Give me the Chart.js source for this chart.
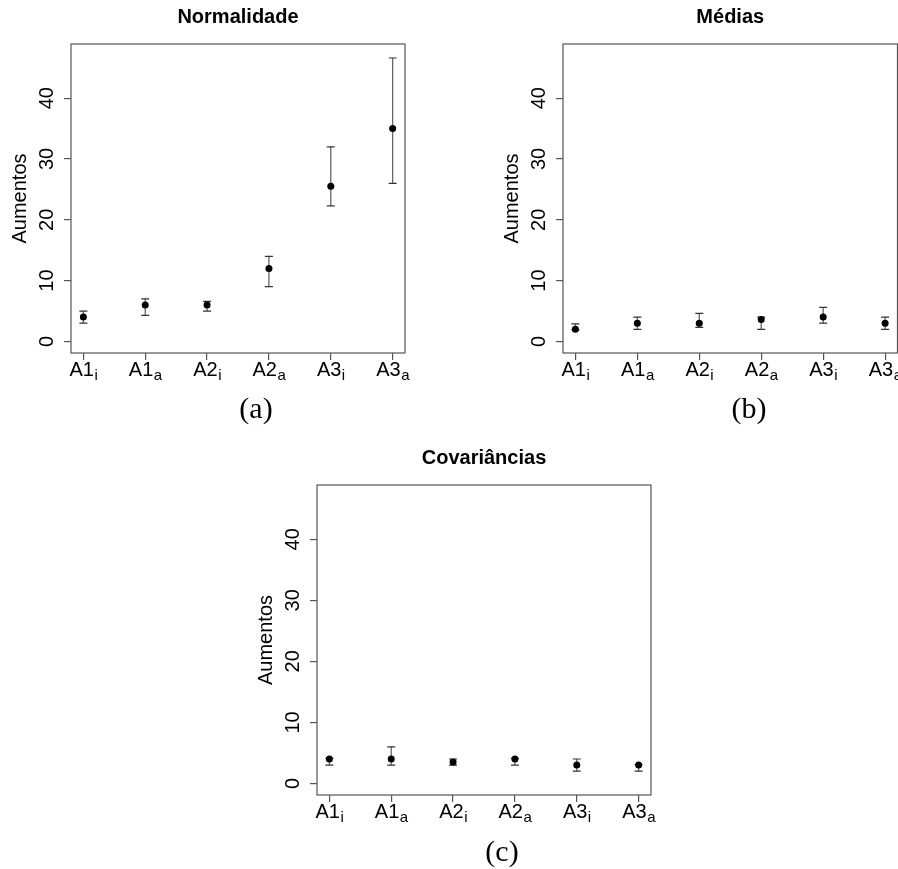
<!DOCTYPE html>
<html><head><meta charset="utf-8">
<script src="https://cdn.jsdelivr.net/npm/chart.js@4.4.1/dist/chart.umd.min.js"></script>
<style>
html,body{margin:0;padding:0;background:#fff;overflow:hidden;width:898px;height:869px;}
.c{position:absolute;}
.cap{position:absolute;font-family:"Liberation Serif","DejaVu Serif",serif;font-size:30px;color:#000;transform:translate(-50%,-50%);line-height:1;white-space:nowrap;}
</style></head><body>
<canvas id="ca" class="c" style="left:0;top:0" width="440" height="393"></canvas>
<canvas id="cb" class="c" style="left:492px;top:0" width="409" height="393"></canvas>
<canvas id="cc" class="c" style="left:246px;top:441px" width="440" height="394"></canvas>
<div class="cap" style="left:256px;top:408px">(a)</div>
<div class="cap" style="left:749px;top:408px">(b)</div>
<div class="cap" style="left:502px;top:851px">(c)</div>
<script>
// ---- data ----
const categories = ['A1', 'A1', 'A2', 'A2', 'A3', 'A3'];
const subscripts = ['i', 'a', 'i', 'a', 'i', 'a'];
const yTicks = [0, 10, 20, 30, 40];

const normMean = [4, 6, 6, 12, 25.5, 35];
const normLow  = [3, 4.3, 5, 9, 22.3, 26];
const normHigh = [5, 7, 6.6, 14, 32, 46.6];

const mediasMean = [2, 3, 3, 3.6, 4, 3];
const mediasLow  = [1.9, 2, 2.3, 2, 3, 2];
const mediasHigh = [2.9, 4, 4.6, 4, 5.6, 4];

const covMean = [4, 4, 3.5, 4, 3, 3];
const covLow  = [3, 3, 3, 3, 2, 2];
const covHigh = [4.1, 6, 4, 4.1, 4, 3.1];

const SANS = '"Liberation Sans", Arial, sans-serif';
Chart.defaults.font.family = SANS;
Chart.defaults.color = '#000';

const rPlot = {
  id: 'rPlot',
  beforeDatasetsDraw(chart) {
    const o = chart.options.plugins.rPlot;
    const {ctx, scales: {x, y}} = chart;
    ctx.save();
    for (let i = 0; i < o.low.length; i++) {
      const px = x.getPixelForValue(i + 1);
      const pl = y.getPixelForValue(o.low[i]);
      const ph = y.getPixelForValue(o.high[i]);
      ctx.strokeStyle = '#666'; ctx.lineWidth = 1.3;
      ctx.beginPath(); ctx.moveTo(px, pl); ctx.lineTo(px, ph); ctx.stroke();
      ctx.strokeStyle = '#333'; ctx.lineWidth = 1.2;
      ctx.beginPath();
      ctx.moveTo(px - 4, pl); ctx.lineTo(px + 4, pl);
      ctx.moveTo(px - 4, ph); ctx.lineTo(px + 4, ph);
      ctx.stroke();
    }
    ctx.restore();
  },
  afterDraw(chart) {
    const {ctx, chartArea: a, scales: {x, y}} = chart;
    ctx.save();
    // box
    ctx.strokeStyle = '#555'; ctx.lineWidth = 1.2;
    ctx.strokeRect(a.left, a.top, a.right - a.left, a.bottom - a.top);
    // y tick labels (rotated, R style)
    ctx.fillStyle = '#000';
    ctx.font = '20px ' + SANS;
    ctx.textAlign = 'center'; ctx.textBaseline = 'middle';
    yTicks.forEach(v => {
      const py = y.getPixelForValue(v);
      ctx.save();
      ctx.translate(a.left - 24, py);
      ctx.rotate(-Math.PI / 2);
      ctx.fillText(String(v), 0, 0);
      ctx.restore();
    });
    // x tick labels with subscripts
    ctx.textBaseline = 'alphabetic'; ctx.textAlign = 'left';
    const base = a.bottom + 23;
    categories.forEach((c, i) => {
      const px = x.getPixelForValue(i + 1);
      ctx.font = '20px ' + SANS;
      const w1 = ctx.measureText(c).width;
      ctx.font = '15px ' + SANS;
      const w2 = ctx.measureText(subscripts[i]).width;
      const sx = px - (w1 + w2) / 2;
      ctx.font = '20px ' + SANS;
      ctx.fillText(c, sx, base);
      ctx.font = '15px ' + SANS;
      ctx.fillText(subscripts[i], sx + w1 + 0.5, base + 4);
    });
    ctx.restore();
  }
};

function makeChart(id, title, mean, low, high, padRight) {
  new Chart(document.getElementById(id), {
    type: 'scatter',
    data: {
      datasets: [{
        data: mean.map((v, i) => ({x: i + 1, y: v})),
        pointRadius: 3.5,
        pointHoverRadius: 3.5,
        backgroundColor: '#000',
        borderWidth: 0
      }]
    },
    plugins: [rPlot],
    options: {
      responsive: false,
      animation: false,
      events: [],
      layout: {padding: {left: 0, top: 0, right: padRight, bottom: 0}},
      plugins: {
        legend: {display: false},
        tooltip: {enabled: false},
        title: {
          display: true, text: title, fullSize: false, color: '#000',
          font: {size: 20, weight: 'bold', family: SANS, lineHeight: 1.2},
          padding: {top: 5, bottom: 15}
        },
        rPlot: {low: low, high: high}
      },
      scales: {
        x: {
          type: 'linear', min: 0.8, max: 6.2,
          afterBuildTicks: s => { s.ticks = categories.map((c, i) => ({value: i + 1})); },
          afterFit: s => { s.height = 40; },
          ticks: {display: false},
          border: {display: false},
          grid: {display: true, drawOnChartArea: false, drawTicks: true, tickLength: 7, color: '#555', lineWidth: 1.2}
        },
        y: {
          type: 'linear', min: -1.9, max: 48.9,
          afterBuildTicks: s => { s.ticks = yTicks.map(v => ({value: v})); },
          afterFit: s => { s.width = 71; },
          ticks: {display: false},
          border: {display: false},
          grid: {display: true, drawOnChartArea: false, drawTicks: true, tickLength: 7, color: '#555', lineWidth: 1.2},
          title: {display: true, text: 'Aumentos', color: '#000', font: {size: 20, family: SANS, lineHeight: 1.2}, padding: {top: 8, bottom: 0}}
        }
      }
    }
  });
}

makeChart('ca', 'Normalidade', normMean, normLow, normHigh, 35);
makeChart('cb', 'Médias', mediasMean, mediasLow, mediasHigh, 1);
makeChart('cc', 'Covariâncias', covMean, covLow, covHigh, 35);
</script>
</body></html>
